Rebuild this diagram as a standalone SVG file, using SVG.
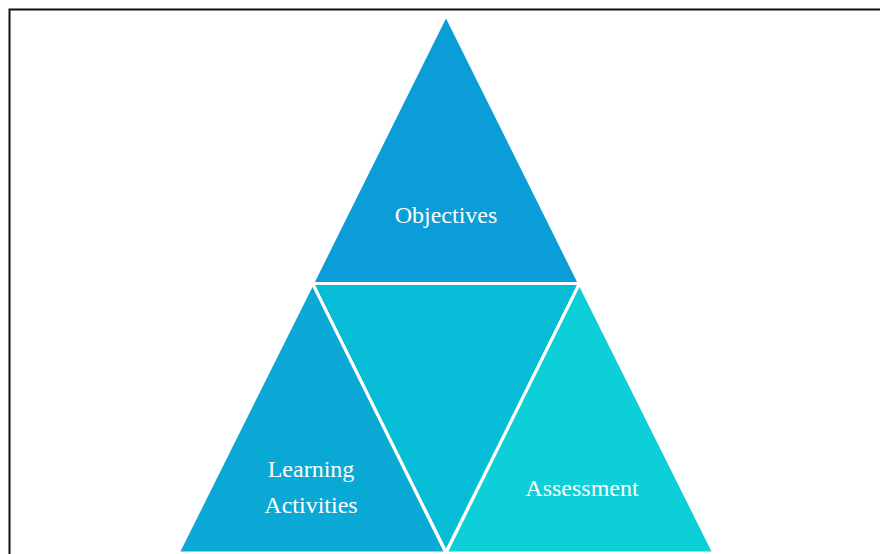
<svg xmlns="http://www.w3.org/2000/svg" width="880" height="554" viewBox="0 0 880 554">
<style>
.tri{stroke:#ffffff;stroke-width:3;stroke-linejoin:round}
.lbl{font-family:"Liberation Serif","DejaVu Serif",serif;font-size:24px;fill:#ffffff;text-anchor:middle}
</style>
<rect x="0" y="0" width="880" height="554" fill="#ffffff"/>
<path d="M9.5,554 V9.5 H880" fill="none" stroke="#111111" stroke-width="2"/>
<g id="middle"><polygon class="tri" points="312.5,283.5 579.5,283.5 446,552" fill="#07bcd6"/></g>
<g id="objectives"><polygon class="tri" points="446,15 312.5,283.5 579.5,283.5" fill="#0a9dd7"/><text class="lbl" x="446" y="223">Objectives</text></g>
<g id="learning-activities"><polygon class="tri" points="312.5,283.5 178,553 446,553" fill="#09a8d5"/><text class="lbl" x="311" y="477">Learning</text><text class="lbl" x="311" y="513">Activities</text></g>
<g id="assessment"><polygon class="tri" points="579.5,283.5 446,553 714,553" fill="#0dcfd8"/><text class="lbl" x="582" y="496">Assessment</text></g>
<g id="connectors"/>
</svg>
